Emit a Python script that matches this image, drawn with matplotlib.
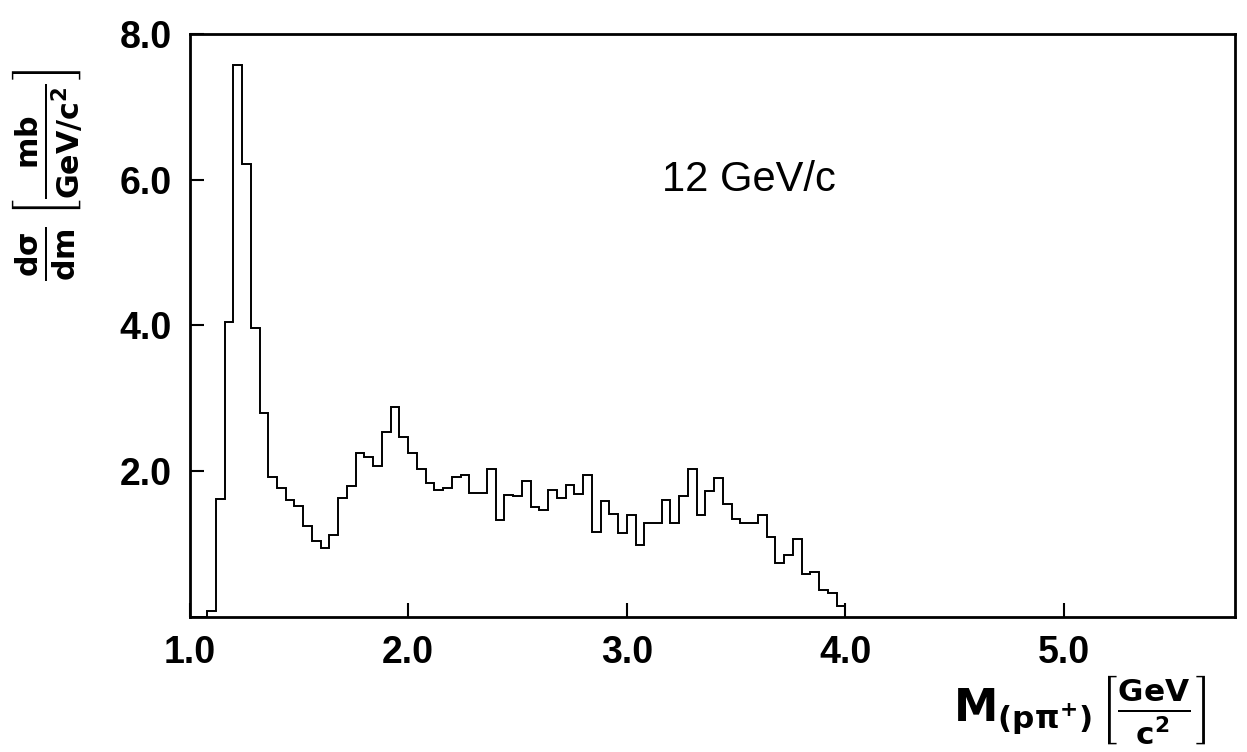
import matplotlib
matplotlib.use("Agg")
import matplotlib.pyplot as plt
import numpy as np

# bin lower edges 1.00 ... 3.96 GeV/c^2, width 0.04
bin_width = 0.04
bin_start = 1.0
# dsigma/dm values per bin [mb/(GeV/c^2)]
dsdm = [
    0.00, 0.00, 0.08, 1.61, 4.05, 7.57, 6.22, 3.96, 2.80, 1.91,
    1.76, 1.60, 1.52, 1.24, 1.04, 0.94, 1.12, 1.63, 1.79, 2.25,
    2.19, 2.07, 2.54, 2.88, 2.47, 2.25, 2.02, 1.84, 1.74, 1.76,
    1.92, 1.95, 1.70, 1.70, 2.03, 1.33, 1.67, 1.65, 1.86, 1.51,
    1.47, 1.74, 1.63, 1.81, 1.69, 1.95, 1.16, 1.59, 1.41, 1.15,
    1.39, 0.99, 1.28, 1.28, 1.60, 1.28, 1.65, 2.03, 1.39, 1.73,
    1.90, 1.54, 1.34, 1.29, 1.29, 1.39, 1.10, 0.73, 0.85, 1.07,
    0.59, 0.61, 0.37, 0.33, 0.15,
]
edges = bin_start + bin_width * np.arange(len(dsdm) + 1)

xticks = [1.0, 2.0, 3.0, 4.0, 5.0]
yticks = [2.0, 4.0, 6.0, 8.0]

plt.rcParams['font.family'] = ['Liberation Sans', 'DejaVu Sans']
plt.rcParams['mathtext.fontset'] = 'dejavusans'
plt.rcParams['mathtext.default'] = 'bf'

fig = plt.figure(figsize=(12.47, 7.52), dpi=100)
ax = fig.add_axes([0.152, 0.180, 0.838, 0.775])

ax.stairs(dsdm, edges, baseline=0, color='black', linewidth=1.4)

ax.set_xlim(1.0, 5.78)
ax.set_ylim(0, 8.0)
ax.set_xticks(xticks)
ax.set_xticklabels([f'{t:.1f}' for t in xticks])
ax.set_yticks(yticks)
ax.set_yticklabels([f'{t:.1f}' for t in yticks])
ax.tick_params(direction='in', length=10, width=1.5, labelsize=27, pad=13)
for lab in ax.get_xticklabels() + ax.get_yticklabels():
    lab.set_fontweight('bold')
for sp in ax.spines.values():
    sp.set_linewidth(2.0)

ax.text(3.56, 6.0, '12 GeV/c', fontsize=30, ha='center', va='center')

fig.text(0.038, 0.768, r'$\frac{d\sigma}{dm}\,\left[\frac{mb}{GeV/c^2}\right]$',
         rotation=90, fontsize=31, ha='center', va='center')
fig.text(0.866, 0.056, r'$M_{(p\pi^{+})}\,\left[\frac{GeV}{c^2}\right]$',
         fontsize=32, ha='center', va='center')

fig.savefig('out.png', dpi=100)
